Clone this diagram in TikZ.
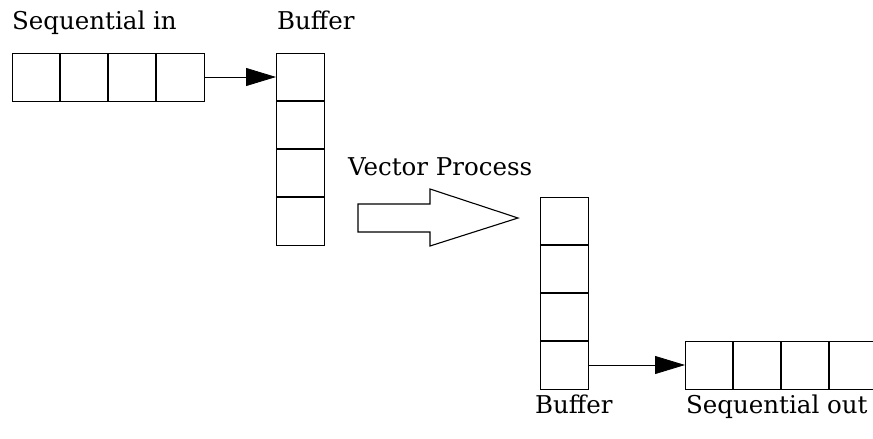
\documentclass[tikz,border=0pt]{standalone}
\usepackage{fontspec}
\setmainfont{DejaVu Serif}
\usetikzlibrary{arrows.meta}
\begin{document}
\begin{tikzpicture}[x=1pt,y=-1pt,
  cell/.style={draw,line width=0.8pt,minimum size=48pt,inner sep=0pt,outer sep=0pt},
  divider/.style={line width=1.6pt},
  feed/.style={line width=0.8pt,-{Triangle[length=30pt,width=18pt]}},
  caption/.style={anchor=base west,inner sep=0pt,font=\fontsize{24.5}{28}\selectfont},
  bigarrow/.style={draw,line width=1.1pt,line join=miter,fill=white}]
\useasboundingbox (0,0) rectangle (873,439);

% sequential input row
\foreach \i in {1,...,4}
  \node[cell] (in\i) at ({12+48*\i-24},77) {};
\foreach \i/\j in {1/2,2/3,3/4}
  \draw[divider] (in\i.north east) -- (in\i.south east);

% first buffer column
\foreach \i in {1,...,4}
  \node[cell] (ba\i) at (300,{53+48*\i-24}) {};
\foreach \i/\j in {1/2,2/3,3/4}
  \draw[divider] (ba\i.south west) -- (ba\i.south east);

% second buffer column
\foreach \i in {1,...,4}
  \node[cell] (bb\i) at (564,{197+48*\i-24}) {};
\foreach \i/\j in {1/2,2/3,3/4}
  \draw[divider] (bb\i.south west) -- (bb\i.south east);

% sequential output row
\foreach \i in {1,...,4}
  \node[cell] (out\i) at ({685+48*\i-24},365) {};
\foreach \i/\j in {1/2,2/3,3/4}
  \draw[divider] (out\i.north east) -- (out\i.south east);

% connectors
\draw[feed] (in4.east) -- (ba1.west);
\draw[feed] (bb4.east) -- (out1.west);

% processing arrow
\draw[bigarrow] (358,204) -- (430,204) -- (430,189) -- (518,218)
  -- (430,246) -- (430,232) -- (358,232) -- cycle;

% captions
\node[caption] (lin) at (12,29) {Sequential in};
\node[caption] (lba) at (277,29) {Buffer};
\node[caption] (lvp) at (348,175) {Vector Process};
\node[caption] (lbb) at (535,413) {Buffer};
\node[caption] (lout) at (686,413) {Sequential out};
\end{tikzpicture}
\end{document}
